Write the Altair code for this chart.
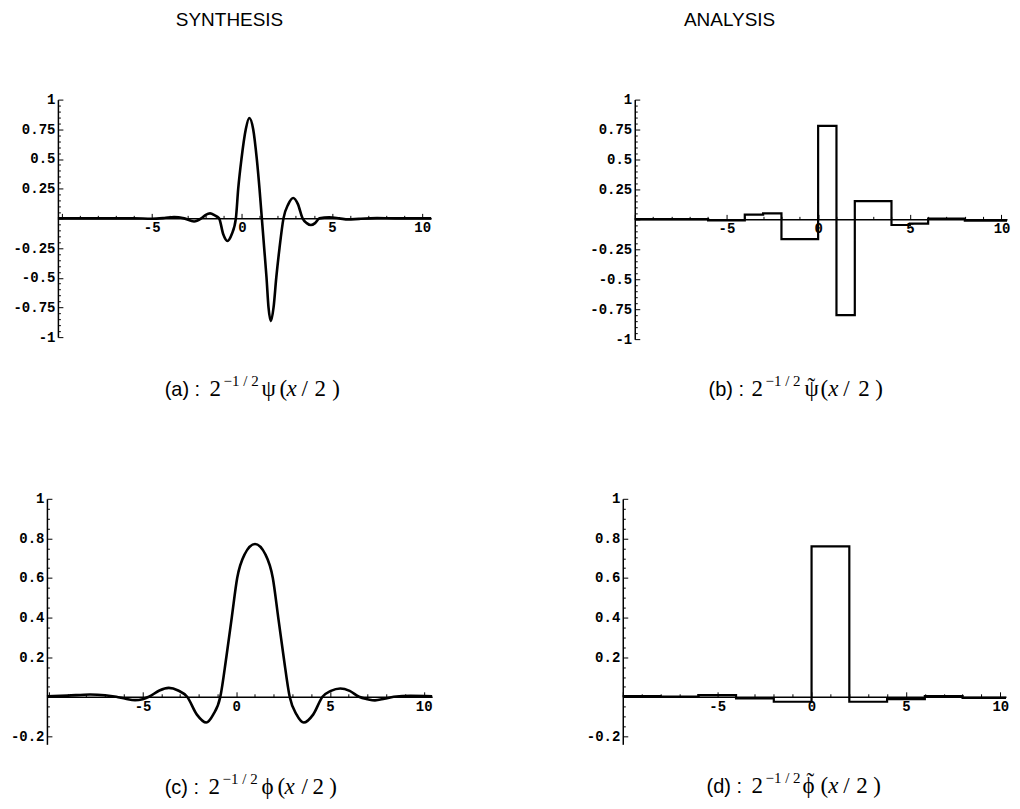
import altair as alt
import pandas as pd

# ---------------- data ----------------
# (a) synthesis wavelet 2^{-1/2} psi(x/2)
a_x = [-10.2, -8, -6, -5, -4.3, -3.76, -3.2, -2.65, -2.25, -2.0, -1.76, -1.5, -1.26, -1.03, -0.8,
       -0.56, -0.33, -0.2, -0.02, 0.22, 0.41, 0.63, 0.83, 0.98, 1.11, 1.24, 1.37, 1.48, 1.61,
       1.76, 1.91, 2.09, 2.31, 2.58, 2.85, 3.11, 3.37, 3.6, 3.83, 4.06, 4.3, 4.85, 5.4, 5.9,
       6.5, 7.5, 8.5, 10.5]
a_y = [0, 0, 0, -0.003, 0.003, 0.011, 0.0, -0.026, 0.0, 0.03, 0.042, 0.025, 0, -0.134, -0.19,
       -0.134, 0, 0.25, 0.5, 0.75, 0.845, 0.75, 0.5, 0.25, 0, -0.25, -0.5, -0.75, -0.865,
       -0.75, -0.5, -0.25, 0, 0.12, 0.172, 0.12, 0, -0.04, -0.056, -0.04, 0, 0.008, 0, -0.01,
       -0.004, 0.002, 0, 0]

# (b) analysis wavelet (piecewise constant): step start and value
b_x = [-10, -6, -4, -3, -2, 0, 1, 2, 4, 5, 6, 8, 10.3]
b_y = [0.002, -0.008, 0.039, 0.05, -0.165, 0.78, -0.80, 0.153, -0.047, -0.035, 0.006, -0.011, -0.011]

# (c) synthesis scaling function 2^{-1/2} phi(x/2)
c_x = [-10.1, -9, -7.8, -7.0, -6.4, -5.9, -5.4, -5.0, -4.66, -4.1, -3.6, -3.1, -2.62, -2.1, -1.6,
       -1.23, -0.85, -0.53, -0.24, 0.05, 0.45, 1.0, 1.55, 1.95, 2.24, 2.53, 2.85, 3.22, 3.6,
       4.1, 4.6, 5.05, 5.55, 6.05, 6.55, 7.0, 7.4, 7.9, 8.4, 9.3, 10.45]
c_y = [0.002, 0.006, 0.012, 0.008, 0, -0.01, -0.017, -0.012, 0, 0.032, 0.045, 0.032, 0, -0.09,
       -0.13, -0.09, 0, 0.2, 0.4, 0.6, 0.72, 0.772, 0.72, 0.6, 0.4, 0.2, 0, -0.09, -0.13,
       -0.09, 0, 0.03, 0.042, 0.03, 0, -0.012, -0.018, -0.01, 0, 0.005, 0.003]

# (d) analysis scaling function (piecewise constant)
d_x = [-10, -8, -6, -4, -2, 0, 2, 4, 6, 8, 10.3]
d_y = [0.003, 0.001, 0.008, -0.008, -0.025, 0.76, -0.025, -0.012, 0.003, -0.005, -0.005]

x_tick_labels = [-5, 0, 5, 10]
y_ticks_ab = [round(-1 + 0.05 * i, 2) for i in range(41)]
y_ticks_cd = [round(-0.2 + 0.05 * i, 2) for i in range(25)]

MONO = "Liberation Mono"
SANS = "Liberation Sans"
SERIF = "Liberation Serif"
dummy = pd.DataFrame({"k": [0]})


def x_axis(offset):
    major = "datum.value % 5 === 0"
    return alt.Axis(
        orient="top", offset=offset, values=list(range(-10, 11)),
        labelExpr="indexof(" + str(x_tick_labels) + ", datum.value) >= 0 ? '' + datum.value : ''",
        tickSize={"condition": {"test": major, "value": 5}, "value": 3},
        tickColor="black", tickWidth=1, domainColor="black", domainWidth=1.5,
        labelFont=MONO, labelFontSize=14, labelFontWeight="bold", labelColor="black",
        labelPadding=-7.5, labelBaseline="top", labelAlign="center",
        labelFlush=False, labelOverlap=False, grid=False, title=None,
    )


def y_axis(width, values, step):
    major = f"abs(datum.value / {step} - round(datum.value / {step})) < 0.001"
    return alt.Axis(
        orient="right", offset=-width, values=values,
        labelExpr=f"({major}) && datum.value != 0 ? '' + datum.value : ''",
        tickSize={"condition": {"test": major, "value": 5}, "value": 2.5},
        tickColor="black", tickWidth=1, domainColor="black", domainWidth=1.5,
        labelFont=MONO, labelFontSize=14, labelFontWeight="bold", labelColor="black",
        labelPadding=-8, labelAlign="right", labelBaseline="middle",
        labelFlush=False, labelOverlap=False, grid=False, title=None,
    )


def texts(items):
    out = []
    for t, x, y, size, font, style, align in items:
        out.append(
            alt.Chart(dummy).mark_text(
                text=t, font=font, fontSize=size, fontStyle=style, align=align,
                baseline="alphabetic", color="black",
            ).encode(x=alt.value(x), y=alt.value(y))
        )
    return out


def panel(xs, ys, xdom, ydom, w, h, yvals, ystep, interp, sw, notes):
    df = pd.DataFrame({"x": xs, "y": ys})
    zero_px = h * ydom[1] / (ydom[1] - ydom[0])
    line = alt.Chart(df).mark_line(color="black", strokeWidth=sw, interpolate=interp).encode(
        x=alt.X("x:Q", scale=alt.Scale(domain=xdom, nice=False, zero=False), axis=x_axis(-zero_px)),
        y=alt.Y("y:Q", scale=alt.Scale(domain=ydom, nice=False, zero=False), axis=y_axis(w, yvals, ystep)),
        order="x:Q",
    )
    return alt.layer(line, *texts(notes)).properties(width=w, height=h)


def spacer(w, top=0, bottom=1):
    return alt.Chart(dummy).mark_rect(opacity=0).encode(
        x=alt.value(0), x2=alt.value(w), y=alt.value(top), y2=alt.value(bottom)
    ).properties(width=w, height=1)


N, I = "normal", "italic"
a_notes = [
    ("SYNTHESIS", 172, -74, 19, SANS, N, "center"),
    ("(a) :", 107, 297, 20, SANS, N, "left"),
    ("2", 152, 297, 23, SERIF, N, "left"),
    ("\u22121 / 2", 166, 287, 15, SERIF, N, "left"),
    ("\u03c8", 204, 297, 23, SERIF, N, "left"),
    ("(", 222, 297, 23, SERIF, N, "left"),
    ("x", 229, 297, 23, SERIF, I, "left"),
    ("/", 244, 297, 23, SERIF, N, "left"),
    ("2", 257, 297, 23, SERIF, N, "left"),
    (")", 275, 297, 23, SERIF, N, "left"),
]
b_notes = [
    ("ANALYSIS", 95, -74, 19, SANS, N, "center"),
    ("(b) :", 74, 297, 20, SANS, N, "left"),
    ("2", 117, 297, 23, SERIF, N, "left"),
    ("\u22121 / 2", 131, 287, 15, SERIF, N, "left"),
    ("\u03c8", 170, 297, 23, SERIF, N, "left"),
    ("\u02dc", 177, 295, 23, SERIF, N, "center"),
    ("(", 186, 297, 23, SERIF, N, "left"),
    ("x", 194, 297, 23, SERIF, I, "left"),
    ("/", 209, 297, 23, SERIF, N, "left"),
    ("2", 224, 297, 23, SERIF, N, "left"),
    (")", 241, 297, 23, SERIF, N, "left"),
]
c_notes = [
    ("(c) :", 118, 296, 20, SANS, N, "left"),
    ("2", 162, 296, 23, SERIF, N, "left"),
    ("\u22121 / 2", 176, 286, 15, SERIF, N, "left"),
    ("\u03d5", 215, 296, 23, SERIF, N, "left"),
    ("(", 231, 296, 23, SERIF, N, "left"),
    ("x", 238, 296, 23, SERIF, I, "left"),
    ("/", 255, 296, 23, SERIF, N, "left"),
    ("2", 266, 296, 23, SERIF, N, "left"),
    (")", 283, 296, 23, SERIF, N, "left"),
]
d_notes = [
    ("(d) :", 84, 295, 20, SANS, N, "left"),
    ("2", 129, 295, 23, SERIF, N, "left"),
    ("\u22121 / 2", 143, 285, 15, SERIF, N, "left"),
    ("\u03d5", 180, 295, 23, SERIF, N, "left"),
    ("\u02dc", 188, 291, 23, SERIF, N, "center"),
    ("(", 198, 295, 23, SERIF, N, "left"),
    ("x", 206, 295, 23, SERIF, I, "left"),
    ("/", 221, 295, 23, SERIF, N, "left"),
    ("2", 234, 295, 23, SERIF, N, "left"),
    (")", 251, 295, 23, SERIF, N, "left"),
]

pa = panel(a_x, a_y, [-10.2, 10.5], [-1, 1], 374, 238, y_ticks_ab, 0.25, "monotone", 2.6, a_notes)
pb = panel(b_x, b_y, [-10, 10.3], [-1, 1], 373, 240, y_ticks_ab, 0.25, "step-after", 2.2, b_notes)
pc = panel(c_x, c_y, [-10.1, 10.45], [-0.24, 1], 386, 246, y_ticks_cd, 0.2, "monotone", 2.6, c_notes)
pd_ = panel(d_x, d_y, [-10, 10.3], [-0.24, 1], 384, 246, y_ticks_cd, 0.2, "step-after", 2.2, d_notes)

row1 = alt.hconcat(spacer(50, -91, 310), pa, spacer(204), pb, spacing=0, bounds="flush")
row2 = alt.hconcat(spacer(39, -90, 1), pc, spacer(191), pd_, spacing=0, bounds="flush")

chart = alt.vconcat(row1, row2, spacing=0).properties(padding=0).configure_view(strokeWidth=0)

chart.save("out.html", embed_options={"renderer": "svg", "actions": False})
